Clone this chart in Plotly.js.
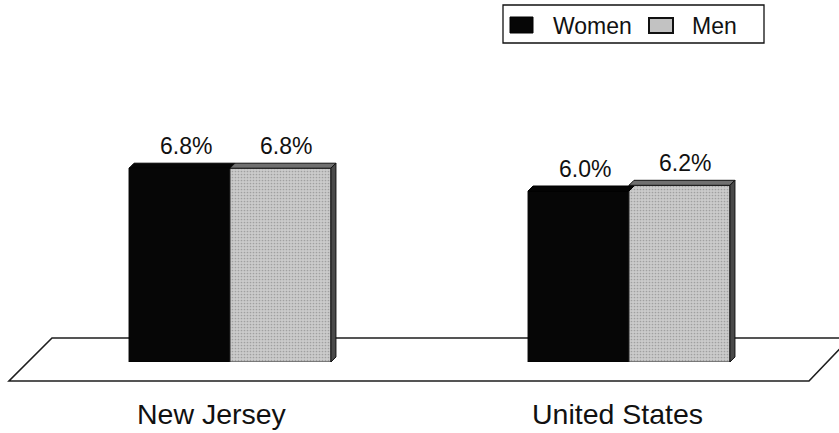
<!DOCTYPE html>
<html>
<head>
<meta charset="utf-8">
<script src="https://cdn.plot.ly/plotly-3.0.1.min.js"></script>
<style>
  html, body { margin: 0; padding: 0; background: #ffffff; }
  #chart { width: 839px; height: 433px; }
</style>
</head>
<body>
<div id="chart"></div>
<script>
// Unemployment rate by sex, New Jersey vs. United States
const categories = ['New Jersey', 'United States'];
const seriesNames = ['Women', 'Men'];
const women = [6.8, 6.0];
const men = [6.8, 6.2];

// ---- geometry of the drawing area ----
const W = 839, H = 433;
const M = { l: 0, r: 0, t: 77, b: 71 };
const PX_PER_X = 399;                 // pixels per category step
const CENTER0 = 230;                  // pixel position of the first group centre
const Y_MAX = 10;
const plotH = H - M.t - M.b;
const PX_PER_Y = plotH / Y_MAX;

const BAR = 0.253;                    // width of one bar (category units)
const DX = 5 / PX_PER_X;              // 3-D depth, horizontal
const DY = 5 / PX_PER_Y;              // 3-D depth, vertical

const FONT = 'Liberation Sans, Arial, Helvetica, sans-serif';
const px2paperX = p => p / W;
const px2paperY = p => (H - M.b - p) / plotH;

const traces = [
  {
    type: 'bar', name: seriesNames[0], x: [0, 1], y: women,
    width: BAR, offset: -BAR,
    marker: { color: '#060606', line: { color: '#000', width: 1 } },
    hoverinfo: 'skip'
  },
  {
    type: 'bar', name: seriesNames[1], x: [0, 1], y: men,
    width: BAR, offset: 0,
    marker: {
      color: '#c2c2c2',
      line: { color: '#2a2a2a', width: 1 },
      pattern: { shape: '.', fgcolor: '#a0a0a0', bgcolor: '#cbcbcb', size: 3, solidity: 0.25, fillmode: 'replace' }
    },
    hoverinfo: 'skip'
  }
];

const shapes = [];

// floor slab under the bars
shapes.push({
  type: 'path', xref: 'paper', yref: 'paper', layer: 'below',
  path: 'M' + px2paperX(52) + ',' + px2paperY(338) +
        ' L' + px2paperX(850) + ',' + px2paperY(338) +
        ' L' + px2paperX(809) + ',' + px2paperY(381) +
        ' L' + px2paperX(9) + ',' + px2paperY(381) + ' Z',
  fillcolor: '#ffffff', line: { color: '#1e1e1e', width: 1.6 }
});

// 3-D top and side faces of every group, derived from the bar values
categories.forEach((c, i) => {
  const xl = i - BAR, xm = i, xr = i + BAR;
  const w = women[i], m = men[i];
  shapes.push({
    type: 'path', xref: 'x', yref: 'y',
    path: `M${xl},${w} L${xl + DX},${w + DY} L${xm + DX},${w + DY} L${xm},${w} Z`,
    fillcolor: '#060606', line: { color: '#000', width: 1 }
  });
  shapes.push({
    type: 'path', xref: 'x', yref: 'y',
    path: `M${xm},${m} L${xm + DX},${m + DY} L${xr + DX},${m + DY} L${xr},${m} Z`,
    fillcolor: '#707070', line: { color: '#111', width: 1 }
  });
  shapes.push({
    type: 'path', xref: 'x', yref: 'y',
    path: `M${xr},${m} L${xr + DX},${m + DY} L${xr + DX},${DY} L${xr},0 Z`,
    fillcolor: '#4a4a4a', line: { color: '#111', width: 1 }
  });
});

// legend box with swatches
shapes.push({
  type: 'rect', xref: 'paper', yref: 'paper',
  x0: px2paperX(503), x1: px2paperX(764), y0: px2paperY(43), y1: px2paperY(5),
  fillcolor: '#ffffff', line: { color: '#111', width: 1.3 }
});
shapes.push({
  type: 'rect', xref: 'paper', yref: 'paper',
  x0: px2paperX(510), x1: px2paperX(533), y0: px2paperY(33), y1: px2paperY(17),
  fillcolor: '#060606', line: { color: '#000', width: 1 }
});
shapes.push({
  type: 'rect', xref: 'paper', yref: 'paper',
  x0: px2paperX(649), x1: px2paperX(673), y0: px2paperY(33), y1: px2paperY(18),
  fillcolor: '#c2c2c2', line: { color: '#111', width: 2 }
});

const annotations = [];

// value labels above each bar
categories.forEach((c, i) => {
  annotations.push({
    xref: 'x', yref: 'y', x: i - BAR / 2, y: women[i] + DY,
    text: women[i].toFixed(1) + '%', showarrow: false,
    xanchor: 'center', yanchor: 'bottom', xshift: 6, yshift: 2,
    font: { family: FONT, size: 23, color: '#111' }
  });
  annotations.push({
    xref: 'x', yref: 'y', x: i + BAR / 2, y: men[i] + DY,
    text: men[i].toFixed(1) + '%', showarrow: false,
    xanchor: 'center', yanchor: 'bottom', xshift: 6, yshift: 2,
    font: { family: FONT, size: 23, color: '#111' }
  });
});

// category labels under the floor
const catShift = [-18, -12];
categories.forEach((c, i) => {
  annotations.push({
    xref: 'x', yref: 'paper', x: i, y: px2paperY(432),
    text: c, showarrow: false, xanchor: 'center', yanchor: 'bottom',
    xshift: catShift[i],
    font: { family: FONT, size: 28.5, color: '#111' }
  });
});

// legend entries
annotations.push({
  xref: 'paper', yref: 'paper', x: px2paperX(551), y: px2paperY(26),
  text: seriesNames[0], showarrow: false, xanchor: 'left', yanchor: 'middle',
  font: { family: FONT, size: 23, color: '#111' }
});
annotations.push({
  xref: 'paper', yref: 'paper', x: px2paperX(690), y: px2paperY(26),
  text: seriesNames[1], showarrow: false, xanchor: 'left', yanchor: 'middle',
  font: { family: FONT, size: 23, color: '#111' }
});

const layout = {
  width: W, height: H,
  margin: M,
  paper_bgcolor: '#ffffff',
  plot_bgcolor: 'rgba(0,0,0,0)',
  showlegend: false,
  barmode: 'overlay',
  xaxis: {
    type: 'linear',
    range: [-CENTER0 / PX_PER_X, (W - CENTER0) / PX_PER_X],
    showgrid: false, zeroline: false, showline: false, showticklabels: false, ticks: '',
    fixedrange: true
  },
  yaxis: {
    range: [0, Y_MAX],
    showgrid: false, zeroline: false, showline: false, showticklabels: false, ticks: '',
    fixedrange: true
  },
  shapes: shapes,
  annotations: annotations,
  font: { family: FONT }
};

Plotly.newPlot('chart', traces, layout, { staticPlot: true, displayModeBar: false });
</script>
</body>
</html>
